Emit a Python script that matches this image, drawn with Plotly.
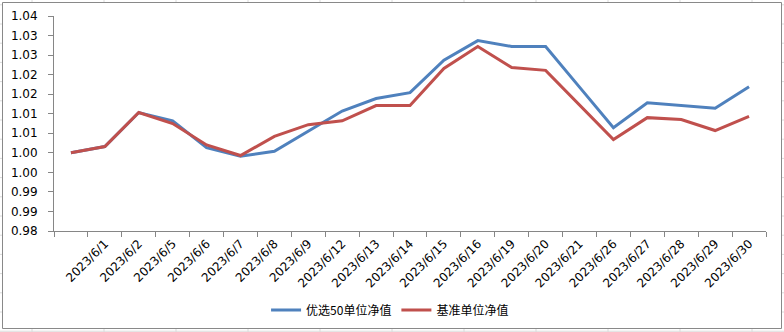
import plotly.graph_objects as go

# Trading dates (the first point is the starting base and carries no label)
dates = ["", "2023/6/1", "2023/6/2", "2023/6/5", "2023/6/6", "2023/6/7", "2023/6/8",
         "2023/6/9", "2023/6/12", "2023/6/13", "2023/6/14", "2023/6/15", "2023/6/16",
         "2023/6/19", "2023/6/20", "2023/6/21", "2023/6/26", "2023/6/27", "2023/6/28",
         "2023/6/29", "2023/6/30"]

# Unit net values
fund_nav = [1.0000, 1.0016, 1.0103, 1.0082, 1.0013, 0.9991, 1.0004, 1.0055, 1.0107,
            1.0139, 1.0154, 1.0237, 1.0287, 1.0272, 1.0272, 1.0168, 1.0064, 1.0128,
            1.0121, 1.0114, 1.0169]
bench_nav = [1.0000, 1.0016, 1.0103, 1.0075, 1.0020, 0.9993, 1.0042, 1.0072, 1.0082,
             1.0121, 1.0121, 1.0216, 1.0272, 1.0218, 1.0211, 1.0123, 1.0034, 1.0090,
             1.0085, 1.0057, 1.0093]

# Value axis ticks and their two-decimal labels
y_ticks = [0.980, 0.985, 0.990, 0.995, 1.000, 1.005, 1.010, 1.015, 1.020, 1.025, 1.030, 1.035]
y_tick_labels = ["0.98", "0.99", "0.99", "1.00", "1.00", "1.01", "1.01", "1.02", "1.02",
                 "1.03", "1.03", "1.04"]

x_pos = list(range(1, len(dates) + 1))

fig = go.Figure()
fig.add_trace(go.Scatter(x=x_pos, y=fund_nav, mode="lines", name="优选50单位净值",
                         line=dict(color="#4F81BD", width=3)))
fig.add_trace(go.Scatter(x=x_pos, y=bench_nav, mode="lines", name="基准单位净值",
                         line=dict(color="#C0504D", width=3)))

W, H = 784, 332
L, R, T, B = 54, 18, 16, 101
plot_w, plot_h = W - L - R, H - T - B


def px_x(px):
    return (px - L) / plot_w


def px_y(py):
    return (H - B - py) / plot_h


axis_grey = "#868686"
fig.update_layout(
    width=W, height=H,
    margin=dict(l=L, r=R, t=T, b=B, autoexpand=False),
    paper_bgcolor="white", plot_bgcolor="rgba(0,0,0,0)",
    font=dict(family="DejaVu Sans", size=12, color="#000000"),
    showlegend=True,
    legend=dict(orientation="h", x=0.472, xanchor="center", y=px_y(310), yanchor="middle",
                font=dict(family="Noto Sans CJK SC", size=12, color="#000000"),
                bgcolor="rgba(0,0,0,0)", itemwidth=30),
    xaxis=dict(range=[0.5, len(dates) + 0.5], tickvals=x_pos, ticktext=dates,
               tickangle=-45, ticks="", showgrid=False, zeroline=False, automargin=False,
               showline=True, linecolor=axis_grey, linewidth=1,
               tickfont=dict(family="DejaVu Sans", size=12, color="#000000"),
               minor=dict(tickvals=[p - 0.5 for p in x_pos] + [len(dates) + 0.5],
                          ticks="outside", ticklen=5, tickcolor=axis_grey, showgrid=False)),
    yaxis=dict(range=[0.98, 1.035], tickvals=y_ticks, ticktext=y_tick_labels,
               ticks="outside", ticklen=5, tickcolor=axis_grey, showgrid=False,
               zeroline=False, showline=True, linecolor=axis_grey, linewidth=1,
               ticklabelstandoff=8, automargin=False,
               tickfont=dict(family="DejaVu Sans", size=12, color="#000000")),
)

# Worksheet cell grid peeking out around the chart frame
cell_grey = "#DADADA"
for gx in range(32, W, 72):
    fig.add_shape(type="line", xref="paper", yref="paper", layer="below",
                  x0=px_x(gx), x1=px_x(gx), y0=px_y(0), y1=px_y(H),
                  line=dict(color=cell_grey, width=1))
gy = 4.8
while gy < H:
    fig.add_shape(type="line", xref="paper", yref="paper", layer="below",
                  x0=px_x(0), x1=px_x(W), y0=px_y(gy), y1=px_y(gy),
                  line=dict(color=cell_grey, width=1))
    gy += 19.2

# Chart frame
fig.add_shape(type="rect", xref="paper", yref="paper", layer="below",
              x0=px_x(2.5), x1=px_x(781.5), y0=px_y(328.5), y1=px_y(2.5),
              line=dict(color="#898989", width=1), fillcolor="white")

fig.write_html("out.html")
